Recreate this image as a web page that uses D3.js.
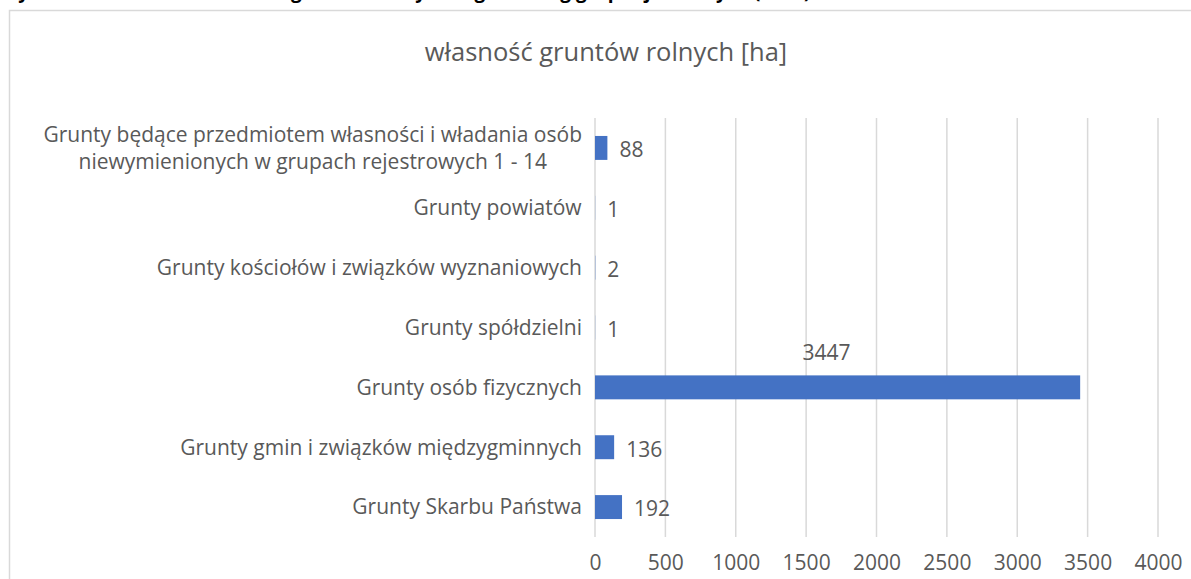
<!DOCTYPE html>
<html>
<head>
<meta charset="utf-8">
<script src="https://cdn.jsdelivr.net/npm/d3@7"></script>
<style>
  body { margin: 0; background: #fff; }
  svg { display: block; font-family: "Open Sans", Lato, sans-serif; }
</style>
</head>
<body>
<svg id="vis"></svg>
<script>
const BAR_COLOUR = '#4472C4';
const TEXT_COLOUR = '#595959';
const GRID_COLOUR = '#d9d9d9';
const FONT_SIZE = 21;

// categories top to bottom, as in the picture
const categories = [
    ['Grunty będące przedmiotem własności i władania osób', 'niewymienionych w grupach rejestrowych 1 - 14'],
    ['Grunty powiatów'],
    ['Grunty kościołów i związków wyznaniowych'],
    ['Grunty spółdzielni'],
    ['Grunty osób fizycznych'],
    ['Grunty gmin i związków międzygminnych'],
    ['Grunty Skarbu Państwa']
];
const values = [88, 1, 2, 1, 3447, 136, 192];
const xTicks = [0, 500, 1000, 1500, 2000, 2500, 3000, 3500, 4000];
const chartTitle = 'własność gruntów rolnych [ha]';
const caption = 'Wykres 7. Struktura własności gruntów rolnych w gminie wg grup rejestrowych (2021)';

var width = 1191, height = 579;
var svg = d3.select('#vis').attr('width', width).attr('height', height);

// caption above the chart, mostly cut off by the top of the page
svg.append('text')
    .attr('x', 0).attr('y', -2)
    .attr('font-size', 19).attr('font-weight', 'bold').attr('fill', '#000')
    .text(caption);

// chart area border (runs off the right and bottom edge)
svg.append('rect')
    .attr('x', 9.5).attr('y', 10.5)
    .attr('width', 1200).attr('height', 600)
    .attr('fill', 'white').attr('stroke', GRID_COLOUR).attr('stroke-width', 1.5);

svg.append('text')
    .attr('x', 606).attr('y', 61)
    .attr('text-anchor', 'middle')
    .attr('font-size', 25.5).attr('fill', TEXT_COLOUR)
    .text(chartTitle);

var x = d3.scaleLinear().domain([0, 4000]).range([595, 1158]);
var y = d3.scaleBand()
    .domain(d3.range(categories.length))
    .range([118, 537])
    .paddingInner(0.6)
    .paddingOuter(0.3);

// gridlines
svg.append('g')
    .selectAll('line')
    .data(xTicks)
    .join('line')
    .attr('x1', d => x(d)).attr('x2', d => x(d))
    .attr('y1', 118).attr('y2', 537)
    .attr('stroke', GRID_COLOUR).attr('stroke-width', 1.5);

// x axis labels
var xAxis = d3.axisBottom(x).tickValues(xTicks).tickFormat(d3.format('d'))
    .tickSize(0).tickPadding(0);
var gx = svg.append('g').attr('transform', 'translate(0,555)').call(xAxis);
gx.select('.domain').remove();
gx.selectAll('text')
    .attr('font-family', '"Open Sans", Lato, sans-serif')
    .attr('font-size', FONT_SIZE).attr('fill', TEXT_COLOUR);

// category labels
var labels = svg.append('g');
categories.forEach(function(lines, i) {
    var cy = y(i) + y.bandwidth() / 2;
    var lineH = 27;
    var t = labels.append('text')
        .attr('font-size', FONT_SIZE).attr('fill', TEXT_COLOUR);
    lines.forEach(function(line, j) {
        t.append('tspan')
            .attr('x', 0)
            .attr('y', cy + (j - (lines.length - 1) / 2) * lineH)
            .attr('dy', '0.35em')
            .attr('text-anchor', 'middle')
            .text(line);
    });
    // right-align the block at x = 582, lines centred on each other
    var w = t.node().getBBox().width;
    t.attr('transform', 'translate(' + (582 - w / 2) + ',0)');
});

// bars
svg.append('g')
    .selectAll('rect')
    .data(values)
    .join('rect')
    .attr('x', x(0))
    .attr('y', (d, i) => y(i))
    .attr('width', d => x(d) - x(0))
    .attr('height', y.bandwidth())
    .attr('fill', BAR_COLOUR);

// value labels
svg.append('g')
    .selectAll('text')
    .data(values)
    .join('text')
    .attr('font-size', FONT_SIZE).attr('fill', TEXT_COLOUR)
    .attr('dy', '0.35em')
    .each(function(d, i) {
        var t = d3.select(this);
        if (d > 3000) {
            // label sits above the long bar
            t.attr('x', (x(0) + x(d)) / 2 - 11)
             .attr('y', y(i) - 23)
             .attr('text-anchor', 'middle');
        } else {
            t.attr('x', x(d) + 12)
             .attr('y', y(i) + y.bandwidth() / 2 + 2)
             .attr('text-anchor', 'start');
        }
    })
    .text(d => d);
</script>
</body>
</html>
